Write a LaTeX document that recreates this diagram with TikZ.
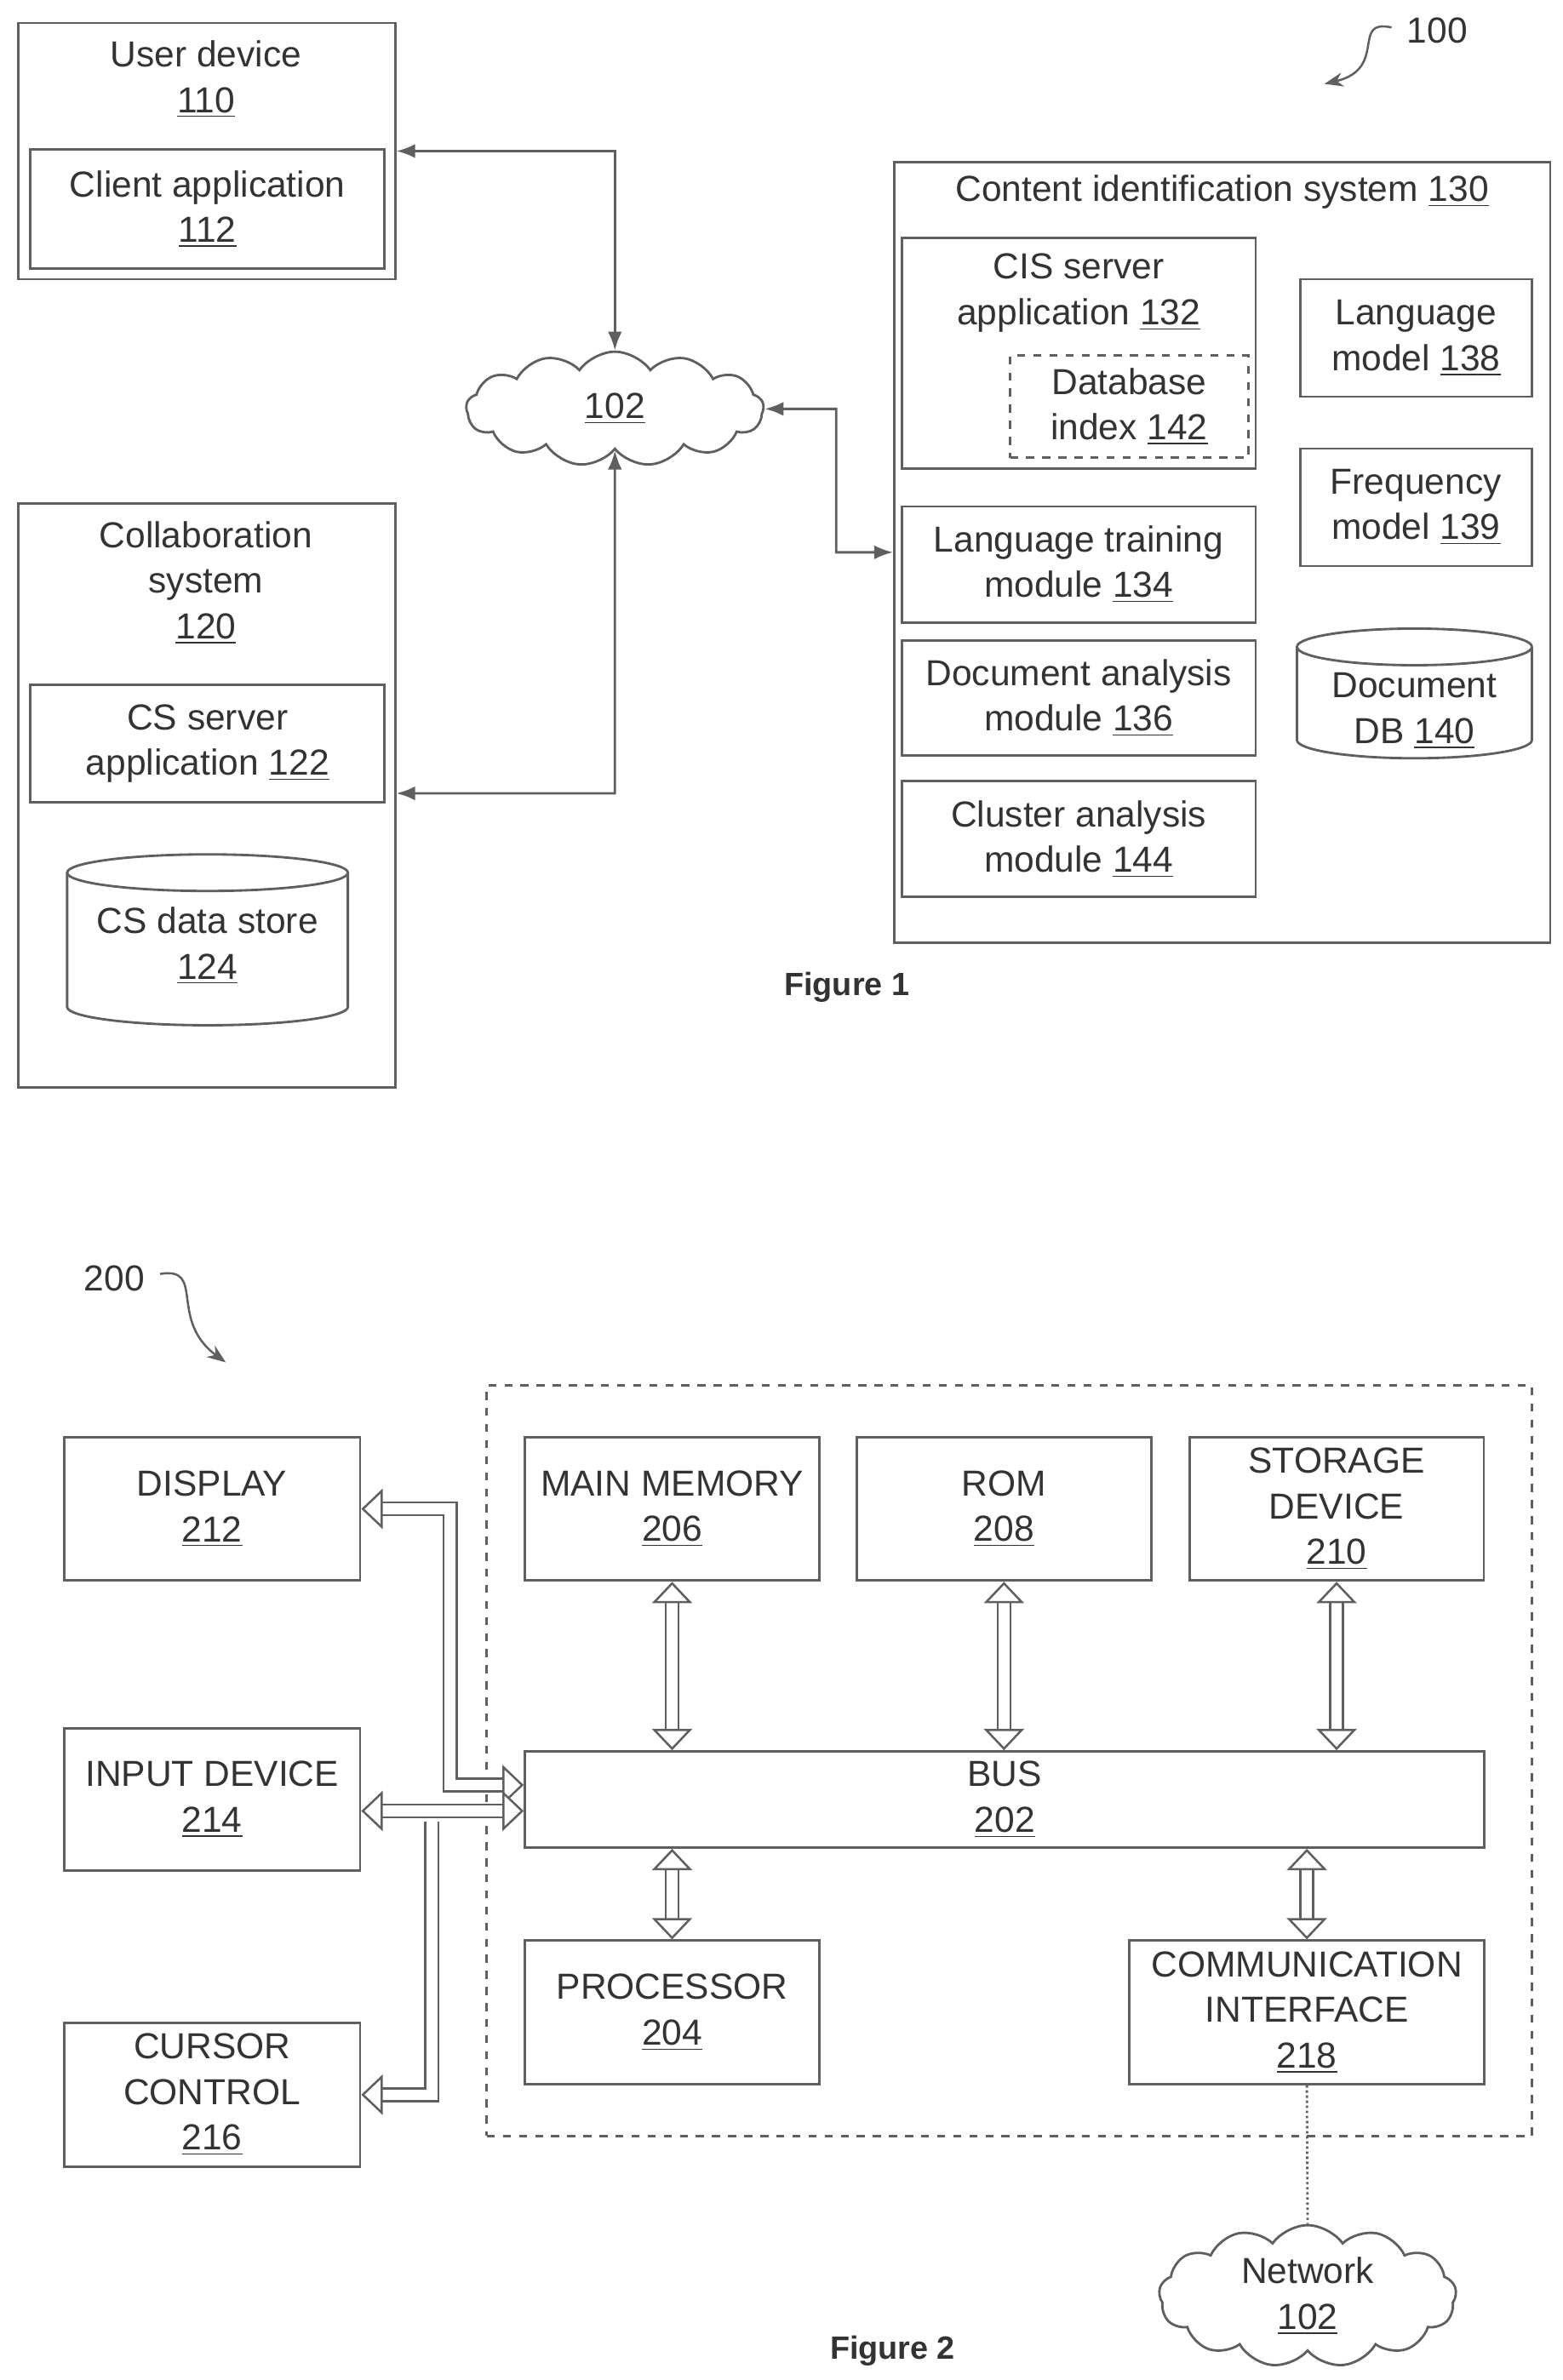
\documentclass[tikz,border=0pt]{standalone}
\usepackage{fontspec}
\setmainfont{Liberation Sans}
\usepackage{xcolor}
\definecolor{line_gray}{RGB}{95,95,95}
\usetikzlibrary{shapes.symbols,arrows.meta}
\begin{document}
\begin{tikzpicture}[x=0.02cm, y=-0.02cm,
  every node/.style={font=\fontsize{13.5}{17}\selectfont, text=black!80, align=center, inner sep=0pt},
  box/.style={draw=line_gray, line width=0.9pt},
  dbox/.style={box, dashed},
  link/.style={draw=line_gray, line width=0.9pt, {Latex[length=7pt]}-{Latex[length=7pt]}},
  fat/.style={draw=line_gray, line width=0.8pt, double=white, double distance=4pt, line join=miter,
    {Triangle[open,fill=white,length=8pt,width=15pt]}-{Triangle[open,fill=white,length=8pt,width=15pt]}},
  figlabel/.style={font=\bfseries\fontsize{12}{14}\selectfont}]
\useasboundingbox (0,0) rectangle (1024,1560);

% Figure 1
\node (lbl100) at (942,20) {100};
\draw[line_gray, line width=0.8pt, -{Stealth[length=7pt]}] (912,18) .. controls (885,12) and (910,45) .. (868,55);

\node[box, minimum width=4.94cm, minimum height=3.36cm] (user) at (135.5,99) {};
\node (userlbl) at (135,52) {User device\\\underline{110}};
\node[box, minimum width=4.64cm, minimum height=1.56cm] (client) at (136,137) {Client application\\\underline{112}};

\node[box, minimum width=4.94cm, minimum height=7.66cm] (collab) at (135.5,521.5) {};
\node (collablbl) at (135,382) {Collaboration\\system\\\underline{120}};
\node[box, minimum width=4.64cm, minimum height=1.54cm] (csapp) at (136,487.5) {CS server\\application \underline{122}};
\draw[box] (228,572) arc (0:360:92 and 12);
\draw[box] (44,572) -- (44,660) arc (180:0:92 and 12) -- (228,572);
\node (csstore) at (136,620) {CS data store\\\underline{124}};

\node[cloud, draw=line_gray, line width=0.9pt, cloud puffs=13, cloud puff arc=110, aspect=2.6,
  minimum width=3.9cm, minimum height=1.5cm] (net) at (403,268) {\underline{102}};

\node[box, minimum width=8.6cm, minimum height=10.24cm] (cis) at (801,362) {};
\node (cislbl) at (801,126) {Content identification system \underline{130}};
\node[box, minimum width=4.64cm, minimum height=3.02cm] (cisapp) at (707,231.5) {};
\node (cisapplbl) at (707,192) {CIS server\\application \underline{132}};
\node[dbox, minimum width=3.12cm, minimum height=1.34cm] (dbindex) at (740,266.5) {Database\\index \underline{142}};
\node[box, minimum width=3.04cm, minimum height=1.54cm] (langmodel) at (928,221.5) {Language\\model \underline{138}};
\node[box, minimum width=3.04cm, minimum height=1.54cm] (freqmodel) at (928,332.5) {Frequency\\model \underline{139}};
\node[box, minimum width=4.64cm, minimum height=1.52cm] (training) at (707,370) {Language training\\module \underline{134}};
\node[box, minimum width=4.64cm, minimum height=1.5cm] (docanalysis) at (707,457.5) {Document analysis\\module \underline{136}};
\node[box, minimum width=4.64cm, minimum height=1.52cm] (cluster) at (707,550) {Cluster analysis\\module \underline{144}};
\draw[box] (1004,424) arc (0:360:77 and 12);
\draw[box] (850,424) -- (850,485) arc (180:0:77 and 12) -- (1004,424);
\node (docdb) at (927,466) {Document\\DB \underline{140}};

\draw[link] (user.east) -- (403,99) -- (net.north);
\draw[link] (net.south) -- (403,520) -- (collab.east |- 0,520);
\draw[link] (net.east) -- (548,268) -- (548,362) -- (cis.west);

\node[figlabel] (fig1) at (555,647) {Figure 1};

% Figure 2
\node (lbl200) at (75,838) {200};
\draw[line_gray, line width=0.8pt, -{Stealth[length=7pt]}] (105,835) .. controls (135,830) and (110,865) .. (148,893);

\node[dbox, minimum width=13.7cm, minimum height=9.84cm] (computer) at (661.5,1154) {};
\node[box, minimum width=3.88cm, minimum height=1.88cm] (display) at (139,989) {DISPLAY\\\underline{212}};
\node[box, minimum width=3.88cm, minimum height=1.86cm] (input) at (139,1179.5) {INPUT DEVICE\\\underline{214}};
\node[box, minimum width=3.88cm, minimum height=1.88cm] (cursor) at (139,1373) {CURSOR\\CONTROL\\\underline{216}};
\node[box, minimum width=3.86cm, minimum height=1.88cm] (memory) at (440.5,989) {MAIN MEMORY\\\underline{206}};
\node[box, minimum width=3.86cm, minimum height=1.88cm] (rom) at (658,989) {ROM\\\underline{208}};
\node[box, minimum width=3.86cm, minimum height=1.88cm] (storage) at (876,989) {STORAGE\\DEVICE\\\underline{210}};
\node[box, minimum width=12.58cm, minimum height=1.26cm] (bus) at (658.5,1179.5) {BUS\\\underline{202}};
\node[box, minimum width=3.86cm, minimum height=1.88cm] (processor) at (440.5,1319) {PROCESSOR\\\underline{204}};
\node[box, minimum width=4.66cm, minimum height=1.88cm] (comm) at (856.5,1319) {COMMUNICATION\\INTERFACE\\\underline{218}};
\node[cloud, draw=line_gray, line width=0.9pt, cloud puffs=13, cloud puff arc=110, aspect=2.6,
  minimum width=3.9cm, minimum height=1.5cm] (network) at (857,1505) {Network\\\underline{102}};

\draw[fat] (memory.south) -- (memory.south |- bus.north);
\draw[fat] (rom.south) -- (rom.south |- bus.north);
\draw[fat] (storage.south) -- (storage.south |- bus.north);
\draw[fat] (processor.north) -- (processor.north |- bus.south);
\draw[fat] (comm.north) -- (comm.north |- bus.south);
\draw[fat] (display.east) -- (295,989) -- (295,1170) -- (bus.west |- 0,1170);
\draw[fat] (input.east |- 0,1187) -- (bus.west |- 0,1187);
\draw[fat, -{Triangle[open,fill=white,length=8pt,width=15pt]}] (283,1194) -- (283,1373) -- (cursor.east);
\draw[line_gray, line width=0.9pt, densely dotted] (comm.south) -- (network.north);

\node[figlabel] (fig2) at (585,1541) {Figure 2};
\end{tikzpicture}
\end{document}
